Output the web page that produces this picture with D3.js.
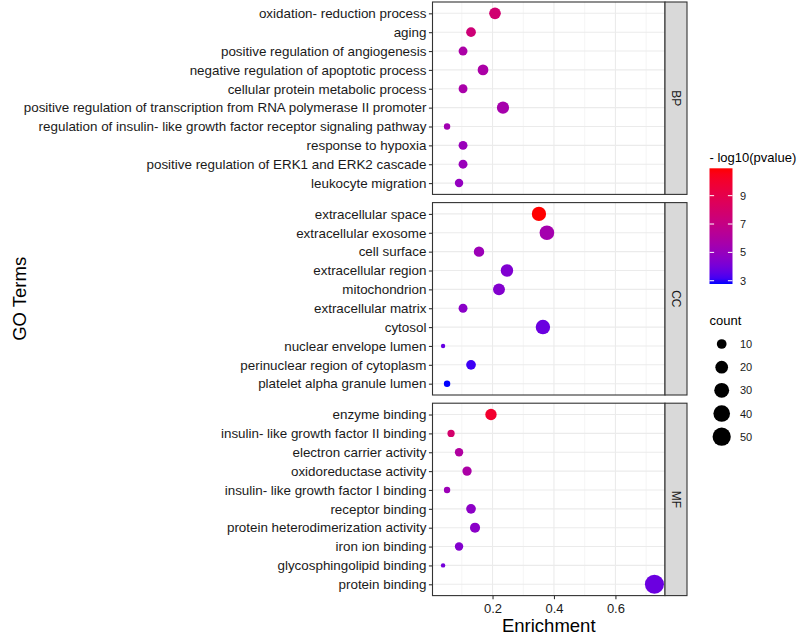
<!DOCTYPE html>
<html><head><meta charset="utf-8">
<script src="https://cdn.jsdelivr.net/npm/d3@7"></script>
<style>body{margin:0;background:#fff}svg{display:block}</style>
</head><body><svg id="chart" width="800" height="634"></svg>
<script>
// ---------- data ----------
const ontologies = ["BP", "CC", "MF"];

const bpTerms = ["oxidation- reduction process", "aging", "positive regulation of angiogenesis",
  "negative regulation of apoptotic process", "cellular protein metabolic process",
  "positive regulation of transcription from RNA polymerase II promoter",
  "regulation of insulin- like growth factor receptor signaling pathway", "response to hypoxia",
  "positive regulation of ERK1 and ERK2 cascade", "leukocyte migration"];
const bpEnrichment = [0.208, 0.130, 0.104, 0.169, 0.104, 0.234, 0.052, 0.104, 0.104, 0.091];
const bpCount = [16, 10, 8, 13, 8, 18, 4, 8, 8, 7];
const bpLogP = [7.7, 7.5, 5.8, 5.8, 5.7, 5.6, 5.4, 5.1, 5.1, 4.9];

const ccTerms = ["extracellular space", "extracellular exosome", "cell surface", "extracellular region",
  "mitochondrion", "extracellular matrix", "cytosol", "nuclear envelope lumen",
  "perinuclear region of cytoplasm", "platelet alpha granule lumen"];
const ccEnrichment = [0.351, 0.377, 0.156, 0.247, 0.221, 0.104, 0.364, 0.039, 0.130, 0.052];
const ccCount = [27, 29, 12, 19, 17, 8, 28, 3, 10, 4];
const ccLogP = [10.93, 5.5, 5.2, 4.3, 4.4, 4.6, 3.8, 3.7, 3.1, 2.77];

const mfTerms = ["enzyme binding", "insulin- like growth factor II binding", "electron carrier activity",
  "oxidoreductase activity", "insulin- like growth factor I binding", "receptor binding",
  "protein heterodimerization activity", "iron ion binding", "glycosphingolipid binding", "protein binding"];
const mfEnrichment = [0.195, 0.065, 0.091, 0.117, 0.052, 0.130, 0.143, 0.091, 0.039, 0.727];
const mfCount = [15, 5, 7, 9, 4, 10, 11, 7, 3, 56];
const mfLogP = [10.0, 7.9, 6.0, 5.8, 5.2, 4.7, 4.6, 4.4, 4.0, 3.8];

const xTicks = [0.2, 0.4, 0.6];
const xMinorTicks = [0.1, 0.3, 0.5, 0.7];
const colorTicks = [3, 5, 7, 9];
const sizeBreaks = [10, 20, 30, 40, 50];

// ---------- build ----------
const groups = [
  {name: ontologies[0], terms: bpTerms, x: bpEnrichment, n: bpCount, p: bpLogP},
  {name: ontologies[1], terms: ccTerms, x: ccEnrichment, n: ccCount, p: ccLogP},
  {name: ontologies[2], terms: mfTerms, x: mfEnrichment, n: mfCount, p: mfLogP}
];
const all = groups.flatMap(g => g.terms.map((t, i) => ({g: g.name, term: t, x: g.x[i], n: g.n[i], p: g.p[i]})));

const FONT = "'Liberation Sans', Arial, Helvetica, sans-serif";
const svg = d3.select("#chart").style("font-family", FONT);

const L = 432.5, R = 665, stripW = 22;
const panelTop = 2, panelH = 192.4, gap = 8.2;

const [ex0, ex1] = d3.extent(all, d => d.x);
const pad = (ex1 - ex0) * 0.05;
const x = d3.scaleLinear().domain([ex0 - pad, ex1 + pad]).range([L, R]);

const [p0, p1] = d3.extent(all, d => d.p);
const color = d3.scaleLinear().domain([p0, p1]).range(["blue", "red"]).interpolate(d3.interpolateLab);

const [n0, n1] = d3.extent(all, d => d.n);
const nScaled = d3.scaleLinear().domain([n0, n1]).range([0, 1]);
const sizeScale = d3.scaleSqrt().domain([0, 1]).range([1, 6]);
const radius = n => 1.03 * (2.845 * sizeScale(nScaled(n)) + 0.945) / 2 + 0.25;

groups.forEach((g, gi) => {
  const top = panelTop + gi * (panelH + gap);
  const y = d3.scalePoint().domain(g.terms).range([top, top + panelH]).padding(0.6);
  const pg = svg.append("g");
  pg.append("rect").attr("x", L).attr("y", top).attr("width", R - L).attr("height", panelH).attr("fill", "#fff");
  // grid
  pg.selectAll(".minor").data(xMinorTicks).join("line")
    .attr("x1", d => x(d)).attr("x2", d => x(d)).attr("y1", top).attr("y2", top + panelH)
    .attr("stroke", "#ebebeb").attr("stroke-width", 0.55);
  pg.selectAll(".majorx").data(xTicks).join("line")
    .attr("x1", d => x(d)).attr("x2", d => x(d)).attr("y1", top).attr("y2", top + panelH)
    .attr("stroke", "#ebebeb").attr("stroke-width", 1.1);
  pg.selectAll(".majory").data(g.terms).join("line")
    .attr("x1", L).attr("x2", R).attr("y1", d => y(d)).attr("y2", d => y(d))
    .attr("stroke", "#ebebeb").attr("stroke-width", 1.1);
  // points
  pg.selectAll("circle").data(g.terms.map((t, i) => ({t, x: g.x[i], n: g.n[i], p: g.p[i]}))).join("circle")
    .attr("cx", d => x(d.x)).attr("cy", d => y(d.t)).attr("r", d => radius(d.n))
    .attr("fill", d => color(d.p));
  // border
  pg.append("rect").attr("x", L).attr("y", top).attr("width", R - L).attr("height", panelH)
    .attr("fill", "none").attr("stroke", "#333333").attr("stroke-width", 1.1);
  // y axis
  const ya = d3.axisLeft(y).tickSize(3.6).tickPadding(2.5);
  const ag = pg.append("g").attr("transform", `translate(${L},0)`).call(ya);
  ag.select(".domain").remove();
  ag.selectAll(".tick line").attr("stroke", "#333333").attr("stroke-width", 1.1);
  ag.selectAll(".tick text").attr("fill", "#1a1a1a").style("font-size", "13.4px").style("font-family", FONT);
  // strip
  pg.append("rect").attr("x", R).attr("y", top).attr("width", stripW).attr("height", panelH)
    .attr("fill", "#d9d9d9").attr("stroke", "#333333").attr("stroke-width", 1.1);
  pg.append("text").attr("transform", `translate(${R + stripW / 2},${top + panelH / 2}) rotate(90)`)
    .attr("text-anchor", "middle").attr("dominant-baseline", "central")
    .style("font-size", "12px").attr("fill", "#1a1a1a").text(g.name);
  if (gi === groups.length - 1) {
    const xa = d3.axisBottom(x).tickValues(xTicks).tickFormat(d3.format(".1f")).tickSize(3.6).tickPadding(4.5);
    const xg = pg.append("g").attr("transform", `translate(0,${top + panelH})`).call(xa);
    xg.select(".domain").remove();
    xg.selectAll(".tick line").attr("stroke", "#333333").attr("stroke-width", 1.1);
    xg.selectAll(".tick text").attr("fill", "#1a1a1a").style("font-size", "13px").style("font-family", FONT);
  }
});

// axis titles
svg.append("text").attr("x", (L + R) / 2).attr("y", 625).attr("text-anchor", "middle")
  .attr("dominant-baseline", "central").style("font-size", "18.5px").attr("fill", "#000").text("Enrichment");
const midY = panelTop + (3 * panelH + 2 * gap) / 2;
svg.append("text").attr("transform", `translate(19,${midY}) rotate(-90)`).attr("text-anchor", "middle")
  .attr("dominant-baseline", "central").style("font-size", "18.5px").attr("fill", "#000").text("GO Terms");

// color legend
const lx = 709.5, cbW = 23, cbTop = 168.3, cbBot = 284;
svg.append("text").attr("x", lx).attr("y", 157).attr("dominant-baseline", "central")
  .style("font-size", "13px").attr("fill", "#000").text("- log10(pvalue)");
const defs = svg.append("defs");
const grad = defs.append("linearGradient").attr("id", "cgrad").attr("x1", 0).attr("y1", 1).attr("x2", 0).attr("y2", 0);
d3.range(0, 1.0001, 0.05).forEach(t => {
  grad.append("stop").attr("offset", t).attr("stop-color", color(p0 + t * (p1 - p0)));
});
svg.append("rect").attr("x", lx).attr("y", cbTop).attr("width", cbW).attr("height", cbBot - cbTop).attr("fill", "url(#cgrad)");
const cy = d3.scaleLinear().domain([p0, p1]).range([cbBot, cbTop]);
colorTicks.forEach(v => {
  svg.append("line").attr("x1", lx).attr("x2", lx + 4.6).attr("y1", cy(v)).attr("y2", cy(v)).attr("stroke", "#fff").attr("stroke-width", 1);
  svg.append("line").attr("x1", lx + cbW - 4.6).attr("x2", lx + cbW).attr("y1", cy(v)).attr("y2", cy(v)).attr("stroke", "#fff").attr("stroke-width", 1);
  svg.append("text").attr("x", 740).attr("y", cy(v)).attr("dominant-baseline", "central")
    .style("font-size", "11px").attr("fill", "#1a1a1a").text(v);
});

// size legend
svg.append("text").attr("x", lx).attr("y", 320).attr("dominant-baseline", "central")
  .style("font-size", "13px").attr("fill", "#000").text("count");
const sy = d3.scalePoint().domain(sizeBreaks).range([344, 436.7]);
sizeBreaks.forEach(v => {
  svg.append("circle").attr("cx", 721.7).attr("cy", sy(v)).attr("r", radius(v)).attr("fill", "#000");
  svg.append("text").attr("x", 740).attr("y", sy(v)).attr("dominant-baseline", "central")
    .style("font-size", "11px").attr("fill", "#1a1a1a").text(v);
});
</script></body></html>
